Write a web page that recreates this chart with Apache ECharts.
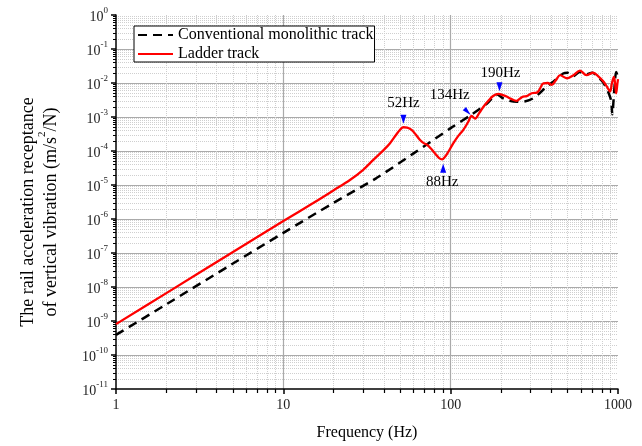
<!DOCTYPE html>
<html><head><meta charset="utf-8">
<script src="https://cdn.jsdelivr.net/npm/echarts@6/dist/echarts.min.js"></script>
<style>html,body{margin:0;padding:0;background:#fff}#c{width:642px;height:446px}</style>
</head><body><div id="c"></div>
<script>
// ---- data ----
const seriesNames = ['Conventional monolithic track', 'Ladder track'];
const conventionalFreq = [1, 2, 5, 10, 20, 36, 60, 100, 134, 165, 190, 205, 225, 250, 280, 310, 340, 370, 400, 430, 470, 500, 540, 590, 650, 700, 760, 820, 880, 910, 925, 940, 960, 975, 1000];
const conventionalValue = [3.9e-10, 3.1e-9, 4.9e-8, 3.9e-7, 3.0e-6, 1.6e-5, 8.5e-5, 4.7e-4, 1.2e-3, 2.5e-3, 4.6e-3, 3.6e-3, 3.0e-3, 2.8e-3, 2.9e-3, 3.5e-3, 5.0e-3, 7.5e-3, 1.0e-2, 1.3e-2, 1.9e-2, 2.0e-2, 1.6e-2, 2.1e-2, 1.8e-2, 2.0e-2, 1.5e-2, 1.0e-2, 5.0e-3, 3.0e-3, 1.2e-3, 3.0e-3, 1.2e-2, 2.1e-2, 1.5e-2];
const ladderFreq = [1, 2, 5, 10, 15, 20, 25, 30, 34.5, 40, 43.4, 47, 50, 52.2, 55, 58.4, 62, 65.6, 69, 72.6, 76, 80.7, 85, 89, 92, 95.6, 103.8, 110, 119, 127, 133.6, 140, 148, 157, 168, 180, 193, 205, 216, 230, 248, 260, 271, 285, 305, 327, 340, 358, 380, 402, 425, 451, 494, 541, 593, 648, 710, 760, 818, 870, 897, 920, 945, 962, 975, 990, 1000];
const ladderValue = [8.1e-10, 6.6e-9, 1.07e-7, 8.7e-7, 2.9e-6, 7e-6, 1.4e-5, 2.8e-5, 5.5e-5, 1.1e-4, 1.7e-4, 2.9e-4, 4.3e-4, 5.0e-4, 4.9e-4, 4.2e-4, 3.0e-4, 2.1e-4, 1.7e-4, 1.5e-4, 1.2e-4, 8.5e-5, 6.3e-5, 5.7e-5, 6.5e-5, 8.5e-5, 1.7e-4, 2.6e-4, 4.2e-4, 7e-4, 1.07e-3, 9e-4, 1.3e-3, 2e-3, 3e-3, 4.2e-3, 4.8e-3, 4.4e-3, 4e-3, 3.4e-3, 3e-3, 3.5e-3, 4e-3, 4.1e-3, 5e-3, 5.2e-3, 6.5e-3, 9.8e-3, 1.0e-2, 8.8e-3, 1.2e-2, 1.7e-2, 1.38e-2, 1.7e-2, 2.3e-2, 1.7e-2, 2e-2, 1.6e-2, 1.1e-2, 7e-3, 5.6e-3, 1.0e-2, 1.5e-2, 9e-3, 5e-3, 9e-3, 1.3e-2];
const xTickLabels = ['1', '10', '100', '1000'];
const annotationLabels = ['52Hz', '88Hz', '134Hz', '190Hz'];
const annotationFreq = [52.2, 89, 133.6, 193];
const annotationValue = [5.0e-4, 5.7e-5, 1.07e-3, 4.8e-3];
const xTitle = 'Frequency (Hz)';
const yTitleLine1 = 'The rail acceleration receptance';
const yTitleLine2a = 'of vertical vibration (m/s';
const yTitleSup = '2';
const yTitleLine2b = '/N)';

// ---- styling ----
const FONT = 'Liberation Serif';
const tri = {
  down: 'path://M0,0L10,0L5,14Z',
  up: 'path://M5,0L10,14L0,14Z',
  diag: 'path://M0,5L5,0L12,12Z'
};
const annStyle = [
  { sym: tri.down, size: [6, 9], off: [0, -8], lab: [0, -24] },
  { sym: tri.up, size: [6, 9], off: [1, 9], lab: [0, 23] },
  { sym: tri.diag, size: [8, 8], off: [-5, -5], lab: [-22, -21] },
  { sym: tri.down, size: [6, 9], off: [1, -7], lab: [2, -21] }
];
const markData = [];
annotationLabels.forEach((name, i) => {
  const s = annStyle[i];
  markData.push({ coord: [annotationFreq[i], annotationValue[i]], symbol: s.sym, symbolSize: s.size, symbolOffset: s.off, itemStyle: { color: '#0000ff' }, label: { show: false } });
  markData.push({ coord: [annotationFreq[i], annotationValue[i]], symbol: 'circle', symbolSize: 1, itemStyle: { color: 'rgba(0,0,0,0)' },
    label: { show: true, position: 'inside', offset: s.lab, formatter: name, fontFamily: FONT, fontSize: 15, color: '#000' } });
});

const conventionalData = conventionalFreq.map((f, i) => [f, conventionalValue[i]]);
const ladderData = ladderFreq.map((f, i) => [f, ladderValue[i]]);

const chart = echarts.init(document.getElementById('c'), null, { renderer: 'canvas' });
chart.setOption({
  animation: false,
  backgroundColor: '#fff',
  grid: { left: 116, top: 15, right: 24, bottom: 57, containLabel: false },
  legend: {
    left: 134, top: 26, orient: 'vertical',
    backgroundColor: '#fff', borderColor: '#000', borderWidth: 1, borderRadius: 0,
    padding: [1, 1, 0, 3], itemWidth: 35, itemHeight: 14, itemGap: 3,
    itemStyle: { opacity: 0 },
    textStyle: { fontFamily: FONT, fontSize: 16, color: '#000' },
    data: seriesNames
  },
  xAxis: {
    type: 'log', logBase: 10, min: 1, max: 1000,
    name: xTitle, nameLocation: 'middle', nameGap: 36,
    nameTextStyle: { fontFamily: FONT, fontSize: 16, color: '#000' },
    axisLine: { show: true, onZero: false, lineStyle: { color: '#000', width: 1.5 } },
    axisTick: { show: true, inside: false, length: 5, lineStyle: { color: '#000', width: 1.5 } },
    minorTick: { show: true, splitNumber: 9, length: 4, lineStyle: { color: '#000', width: 1.2 } },
    splitLine: { show: true, showMinLine: false, showMaxLine: false, lineStyle: { color: '#aaaaaa', width: 1.2 } },
    minorSplitLine: { show: true, lineStyle: { color: '#cfcfcf', width: 1, type: 'dotted' } },
    axisLabel: { fontFamily: FONT, fontSize: 14, color: '#222', margin: 9,
      formatter: v => { const e = Math.round(Math.log10(v)); return xTickLabels[e] !== undefined ? xTickLabels[e] : String(v); } }
  },
  yAxis: {
    type: 'log', logBase: 10, min: 1e-11, max: 1, interval: 1,
    axisLine: { show: true, onZero: false, lineStyle: { color: '#000', width: 1.5 } },
    axisTick: { show: true, inside: false, length: 5, lineStyle: { color: '#000', width: 1.5 } },
    minorTick: { show: true, splitNumber: 9, length: 3, lineStyle: { color: '#000', width: 1 } },
    splitLine: { show: true, showMinLine: false, showMaxLine: false, lineStyle: { color: '#aaaaaa', width: 1.2 } },
    minorSplitLine: { show: true, lineStyle: { color: '#cfcfcf', width: 1, type: 'dotted' } },
    axisLabel: {
      margin: 8,
      formatter: v => '{b|10}{s|' + Math.round(Math.log10(v)) + '}',
      rich: {
        b: { fontFamily: FONT, fontSize: 14, color: '#222', lineHeight: 18, verticalAlign: 'bottom' },
        s: { fontFamily: FONT, fontSize: 9, color: '#222', lineHeight: 18, verticalAlign: 'top' }
      }
    }
  },
  graphic: [{
    type: 'text', x: 37, y: 212, rotation: Math.PI / 2,
    style: {
      text: '{t|' + yTitleLine1 + '}\n{t|' + yTitleLine2a + '}{p|' + yTitleSup + '}{t|' + yTitleLine2b + '}',
      align: 'center', verticalAlign: 'middle',
      rich: {
        t: { fontFamily: FONT, fontSize: 18, fill: '#000', lineHeight: 23, verticalAlign: 'bottom' },
        p: { fontFamily: FONT, fontSize: 11, fill: '#000', lineHeight: 23, verticalAlign: 'top' }
      }
    }
  }],
  series: [
    {
      name: seriesNames[0], type: 'line', data: conventionalData, showSymbol: false, symbol: 'none',
      smooth: 0.3, lineStyle: { color: '#000', width: 2.5, type: [9, 6] }, itemStyle: { color: '#000' }, z: 3
    },
    {
      name: seriesNames[1], type: 'line', data: ladderData, showSymbol: false, symbol: 'none',
      smooth: 0.35, lineStyle: { color: '#ff0000', width: 2.3 }, itemStyle: { color: '#ff0000' }, z: 4,
      markPoint: { silent: true, data: markData, animation: false }
    }
  ]
});
</script></body></html>
